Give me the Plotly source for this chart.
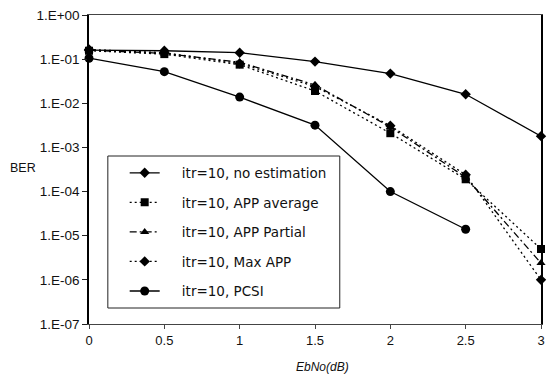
import plotly.graph_objects as go

ebno = [0, 0.5, 1, 1.5, 2, 2.5, 3]
ebno_pcsi = [0, 0.5, 1, 1.5, 2, 2.5]

ber_no_est = [0.16, 0.155, 0.14, 0.088, 0.047, 0.016, 0.0018]
ber_app_avg = [0.155, 0.13, 0.075, 0.019, 0.0021, 0.00019, 5.0e-06]
ber_app_partial = [0.16, 0.135, 0.085, 0.026, 0.0029, 0.00021, 2.4e-06]
ber_max_app = [0.165, 0.14, 0.08, 0.024, 0.0031, 0.00024, 1.0e-06]
ber_pcsi = [0.105, 0.052, 0.0138, 0.0032, 0.0001, 1.4e-05]

names = ["itr=10, no estimation", "itr=10, APP average", "itr=10, APP Partial",
         "itr=10, Max APP", "itr=10, PCSI"]
ytick_vals = [1e0, 1e-1, 1e-2, 1e-3, 1e-4, 1e-5, 1e-6, 1e-7]
ytick_text = ["1.E+00", "1.E-01", "1.E-02", "1.E-03", "1.E-04", "1.E-05", "1.E-06", "1.E-07"]
xtick_vals = [0, 0.5, 1, 1.5, 2, 2.5, 3]
xtick_text = ["0", "0.5", "1", "1.5", "2", "2.5", "3"]

series = [
    (ebno, ber_no_est, "solid", "diamond", 8),
    (ebno, ber_app_avg, "2px,3px", "square", 8),
    (ebno, ber_app_partial, "7px,3px,2px,3px", "triangle-up", 8),
    (ebno, ber_max_app, "2px,3px", "diamond", 8),
    (ebno_pcsi, ber_pcsi, "solid", "circle", 9),
]

fig = go.Figure()
for i, (xs, ys, dash, sym, sz) in enumerate(series):
    fig.add_trace(go.Scatter(
        x=xs, y=ys, name="\u00a0" * 4 + names[i], mode="lines+markers",
        line=dict(color="black", width=1.3, dash=dash),
        marker=dict(symbol=sym, size=sz, color="black"),
        legendgroup="g%d" % i, cliponaxis=False,
    ))

font = "Liberation Sans, Arial, sans-serif"
narrow = "Liberation Sans Narrow, Arial Narrow, Liberation Sans, sans-serif"

# plot area in pixels: x 89..545, y 15..324
def px_x(p):
    return (p - 89) / 456.0

def px_y(p):
    return (324 - p) / 309.0

fig.update_layout(
    width=548, height=378,
    margin=dict(l=89, r=3, t=15, b=54),
    paper_bgcolor="white", plot_bgcolor="white",
    font=dict(family=font, size=13, color="#111"),
    showlegend=True,
    legend=dict(
        x=px_x(125), y=px_y(157.5), xanchor="left", yanchor="top",
        borderwidth=0, bgcolor="rgba(0,0,0,0)",
        tracegroupgap=9, traceorder="grouped",
        font=dict(family="DejaVu Sans, sans-serif", size=13.5, color="#111"),
    ),
    shapes=[dict(
        type="rect", xref="paper", yref="paper",
        x0=px_x(108), x1=px_x(342), y0=px_y(308), y1=px_y(156),
        line=dict(color="#222", width=1), fillcolor="white", layer="above",
    )],
    xaxis=dict(
        range=[0, 3], tickvals=xtick_vals, ticktext=xtick_text,
        showgrid=False, zeroline=False, showline=True, linecolor="#444",
        linewidth=1, mirror=True, ticks="outside", ticklen=4, tickcolor="#444",
        tickfont=dict(size=13),
    ),
    yaxis=dict(
        type="log", range=[-7, 0], tickvals=ytick_vals, ticktext=ytick_text,
        showgrid=False, zeroline=False, showline=True, linecolor="black",
        linewidth=1.5, mirror=True, ticks="outside", ticklen=5, tickcolor="#222",
        tickfont=dict(size=13.5),
    ),
    annotations=[
        dict(text="BER", xref="paper", yref="paper", x=px_x(7), y=px_y(168),
             xanchor="left", yanchor="middle", showarrow=False,
             font=dict(family=narrow, size=12.5, color="#111")),
        dict(text="<i>EbNo(dB)</i>", xref="paper", yref="paper", x=px_x(325), y=px_y(367),
             xanchor="center", yanchor="middle", showarrow=False,
             font=dict(family=narrow, size=12, color="#111")),
    ],
)

fig.write_html("out.html")
